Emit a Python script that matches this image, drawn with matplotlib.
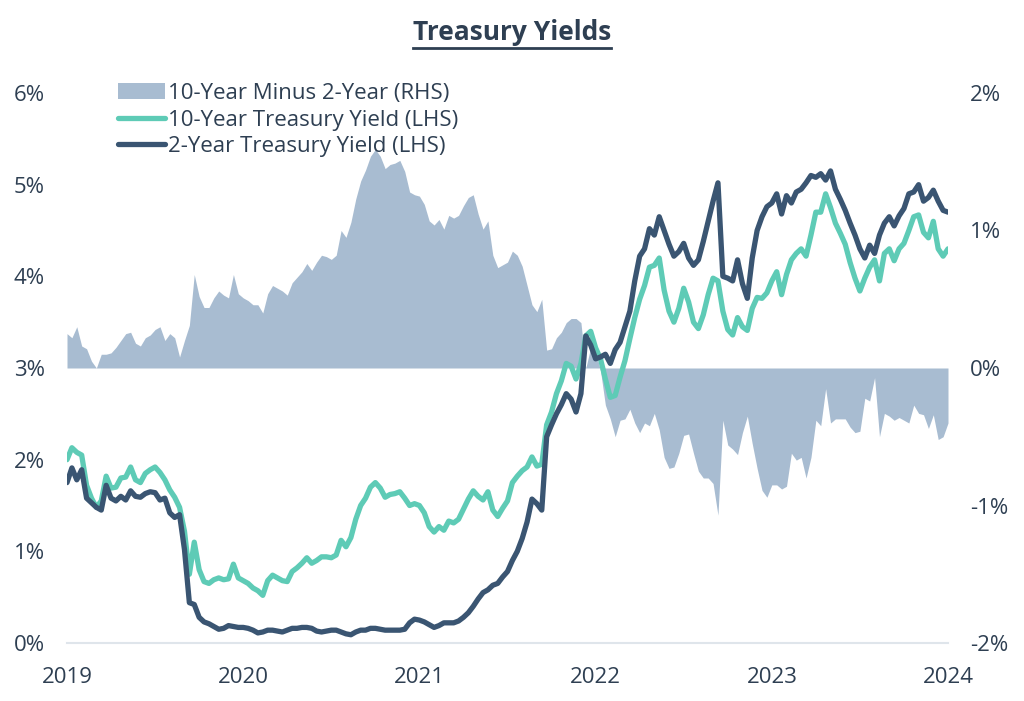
"""
Treasury yields: 10-year, 2-year and the 10y-2y spread.
"""

import numpy as np
import pandas as pd
import matplotlib
matplotlib.use('Agg')
import matplotlib.pyplot as plt
import matplotlib.dates as mdates
from matplotlib.ticker import FuncFormatter

plt.rcParams['font.family'] = ['Open Sans', 'DejaVu Sans']

# Data (percent), roughly every 10 days 2019 -> 2024
# ----------------------------------------------------------------------------

dates = pd.date_range('2019-01-01', '2024-01-01', periods=181)

ten_year = np.array([
    # 2019
    2.00, 2.13, 2.08, 2.05, 1.72, 1.58, 1.48, 1.55, 1.82, 1.69, 1.70, 1.80,
    1.81, 1.92, 1.78, 1.75, 1.85, 1.89, 1.92, 1.86, 1.78, 1.67, 1.59, 1.48,
    1.22, 0.75, 1.10, 0.80, 0.67, 0.65, 0.69, 0.71, 0.69, 0.70, 0.86, 0.71,
    # 2020
    0.68, 0.65, 0.60, 0.57, 0.52, 0.68, 0.74, 0.71, 0.68, 0.67, 0.78, 0.82,
    0.87, 0.93, 0.87, 0.90, 0.94, 0.94, 0.93, 0.96, 1.12, 1.05, 1.15, 1.35,
    1.50, 1.58, 1.70, 1.75, 1.69, 1.59, 1.62, 1.63, 1.65, 1.58, 1.50, 1.52,
    # 2021
    1.50, 1.42, 1.27, 1.21, 1.27, 1.23, 1.33, 1.31, 1.35, 1.46, 1.57, 1.66,
    1.60, 1.56, 1.65, 1.45, 1.38, 1.47, 1.55, 1.75, 1.82, 1.88, 1.92, 2.03,
    1.93, 1.95, 2.38, 2.52, 2.72, 2.86, 3.05, 3.02, 2.88, 3.05, 3.35, 3.40,
    # 2022
    3.22, 3.10, 2.88, 2.68, 2.70, 2.90, 3.08, 3.32, 3.55, 3.75, 3.90, 4.10,
    4.12, 4.20, 3.85, 3.62, 3.50, 3.65, 3.87, 3.72, 3.50, 3.43, 3.58, 3.80,
    3.98, 3.95, 3.62, 3.42, 3.36, 3.55, 3.45, 3.41, 3.65, 3.77, 3.76, 3.82,
    # 2023
    3.95, 4.05, 3.80, 4.02, 4.18, 4.25, 4.30, 4.22, 4.45, 4.70, 4.70, 4.90,
    4.75, 4.58, 4.47, 4.35, 4.15, 3.98, 3.84, 3.98, 4.10, 4.18, 3.95, 4.25,
    4.30, 4.17, 4.30, 4.36, 4.50, 4.65, 4.67, 4.48, 4.42, 4.60, 4.30, 4.22,
    4.30,
])

two_year = np.array([
    # 2019
    1.75, 1.91, 1.78, 1.89, 1.58, 1.53, 1.48, 1.45, 1.72, 1.58, 1.55, 1.60,
    1.56, 1.66, 1.60, 1.59, 1.63, 1.65, 1.64, 1.56, 1.58, 1.42, 1.37, 1.40,
    1.02, 0.44, 0.42, 0.28, 0.23, 0.21, 0.18, 0.15, 0.16, 0.19, 0.18, 0.17,
    # 2020
    0.17, 0.16, 0.14, 0.11, 0.12, 0.14, 0.14, 0.13, 0.12, 0.14, 0.16, 0.16,
    0.17, 0.17, 0.16, 0.13, 0.12, 0.13, 0.14, 0.14, 0.12, 0.10, 0.09, 0.12,
    0.14, 0.14, 0.16, 0.16, 0.15, 0.14, 0.14, 0.14, 0.14, 0.15, 0.22, 0.26,
    # 2021
    0.25, 0.23, 0.20, 0.17, 0.19, 0.22, 0.22, 0.22, 0.24, 0.28, 0.33, 0.40,
    0.48, 0.55, 0.58, 0.63, 0.65, 0.72, 0.78, 0.90, 1.00, 1.14, 1.32, 1.57,
    1.52, 1.45, 2.25, 2.38, 2.50, 2.60, 2.72, 2.66, 2.52, 2.72, 3.35, 3.25,
    # 2022
    3.10, 3.12, 3.15, 3.05, 3.20, 3.28, 3.45, 3.62, 3.95, 4.22, 4.30, 4.52,
    4.45, 4.65, 4.50, 4.35, 4.22, 4.27, 4.36, 4.20, 4.12, 4.18, 4.38, 4.60,
    4.82, 5.02, 4.00, 3.98, 3.95, 4.18, 3.92, 3.76, 4.20, 4.50, 4.65, 4.76,
    # 2023
    4.80, 4.90, 4.68, 4.88, 4.80, 4.92, 4.95, 5.02, 5.10, 5.08, 5.12, 5.05,
    5.15, 4.95, 4.84, 4.72, 4.58, 4.45, 4.30, 4.20, 4.34, 4.25, 4.45, 4.58,
    4.65, 4.55, 4.66, 4.74, 4.90, 4.92, 5.00, 4.82, 4.86, 4.94, 4.82, 4.72,
    4.70,
])

spread = ten_year - two_year

years = [2019, 2020, 2021, 2022, 2023, 2024]

# Colours
# ----------------------------------------------------------------------------

text_color = '#2e3f52'
navy = '#3a5572'
teal = '#5ecbb6'
fill_color = '#a8bcd1'

# Plot
# ----------------------------------------------------------------------------

fig = plt.figure(figsize=(10.24, 7.01), dpi=100)
ax = fig.add_axes([67 / 1024, 1 - 643 / 701, (948 - 67) / 1024, (643 - 93) / 701])
ax2 = ax.twinx()

ax2.fill_between(dates, spread, 0, color=fill_color, lw=0,
                 label='10-Year Minus 2-Year (RHS)')
ax.plot(dates, ten_year, color=teal, lw=3.8, solid_capstyle='round',
        label='10-Year Treasury Yield (LHS)')
ax.plot(dates, two_year, color=navy, lw=3.8, solid_capstyle='round',
        label='2-Year Treasury Yield (LHS)')

ax.set_zorder(ax2.get_zorder() + 1)
ax.patch.set_visible(False)

ax.set_xlim(pd.Timestamp('2019-01-01'), pd.Timestamp('2024-01-01'))
ax.set_ylim(0, 6)
ax2.set_ylim(-2, 2)
ax.set_yticks(range(0, 7))
ax2.set_yticks(range(-2, 3))
ax.yaxis.set_major_formatter(FuncFormatter(lambda v, p: f'{v:.0f}%'))
ax2.yaxis.set_major_formatter(FuncFormatter(lambda v, p: f'{v:.0f}%'))
ax.set_xticks([pd.Timestamp(f'{y}-01-01') for y in years])
ax.xaxis.set_major_formatter(mdates.DateFormatter('%Y'))

for a in (ax, ax2):
    for s in a.spines.values():
        s.set_visible(False)
    a.tick_params(length=0, labelsize=16, labelcolor=text_color)
ax.spines['bottom'].set_visible(True)
ax.spines['bottom'].set_color('#dfe5eb')
ax.spines['bottom'].set_linewidth(1.5)
ax.tick_params(axis='x', pad=17)
ax.tick_params(axis='y', pad=16)
ax2.tick_params(axis='y', pad=16)

h1, l1 = ax2.get_legend_handles_labels()
h2, l2 = ax.get_legend_handles_labels()
leg = fig.legend(h1 + h2, l1 + l2, loc='upper left',
                 bbox_to_anchor=(118 / 1024, 1 - 83 / 701),
                 frameon=False, fontsize=16, labelcolor=text_color,
                 handlelength=2.1, handletextpad=0.15, labelspacing=0.25,
                 borderpad=0, borderaxespad=0)

title = fig.text(0.5, 1 - 33 / 701, 'Treasury Yields', ha='center', va='center',
                 fontsize=19, fontweight='bold', color=text_color)

# underline the title
fig.canvas.draw()
bb = title.get_window_extent().transformed(fig.transFigure.inverted())
fig.add_artist(plt.Line2D([bb.x0, bb.x1], [bb.y0 - 0.002, bb.y0 - 0.002],
                          color=text_color, lw=2, transform=fig.transFigure))

fig.savefig('out.png', dpi=100)
